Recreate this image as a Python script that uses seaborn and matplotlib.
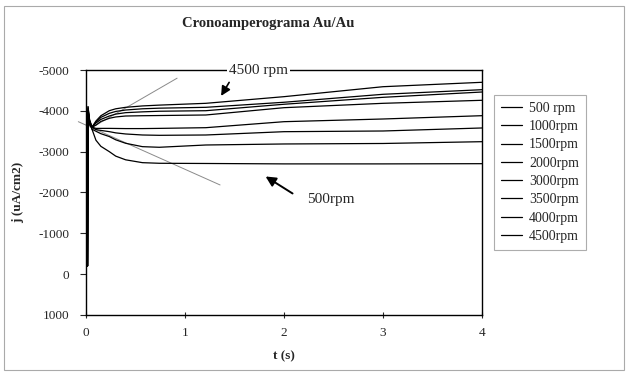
import matplotlib
matplotlib.use("Agg")
import matplotlib.pyplot as plt
import numpy as np
import pandas as pd
import seaborn as sns
from matplotlib.patches import Rectangle

# time points (s)
t = [0.015, 0.02, 0.035, 0.06, 0.1, 0.15, 0.235, 0.3, 0.4, 0.57, 0.74, 1.21, 2, 3, 4]

# current density j (uA/cm2) for each rotation rate
j_500 = [-200, -4100, -3750, -3550, -3280, -3130, -3000, -2890, -2800, -2730, -2715, -2710, -2700, -2700, -2705]
j_1000 = [-200, -4050, -3700, -3550, -3500, -3440, -3370, -3290, -3205, -3122, -3107, -3163, -3188, -3200, -3244]
j_1500 = [-200, -4000, -3700, -3600, -3540, -3520, -3490, -3460, -3433, -3408, -3400, -3408, -3489, -3506, -3580]
j_2000 = [-200, -3950, -3650, -3600, -3570, -3570, -3570, -3568, -3565, -3565, -3570, -3587, -3734, -3800, -3881]
j_3000 = [-200, -4000, -3750, -3600, -3650, -3740, -3817, -3850, -3873, -3880, -3885, -3898, -4077, -4184, -4258]
j_3500 = [-200, -4000, -3750, -3600, -3700, -3790, -3873, -3920, -3955, -3975, -3990, -4003, -4161, -4331, -4461]
j_4000 = [-200, -4050, -3750, -3600, -3720, -3840, -3939, -3985, -4020, -4050, -4065, -4086, -4210, -4405, -4518]
j_4500 = [-200, -4100, -3800, -3600, -3750, -3880, -4003, -4050, -4086, -4120, -4140, -4184, -4347, -4591, -4699]

labels = ["500 rpm", "1000rpm", "1500rpm", "2000rpm", "3000rpm", "3500rpm", "4000rpm", "4500rpm"]
series = [j_500, j_1000, j_1500, j_2000, j_3000, j_3500, j_4000, j_4500]

# gray guide lines (tangents) drawn on the original
tangent_up_t = [0.08, 0.92]
tangent_up_j = [-3620, -4800]
tangent_down_t = [-0.078, 1.354]
tangent_down_j = [-3734, -2184]

rows = []
for lab, vals in zip(labels, series):
    for ti, v in zip(t, vals):
        rows.append({"t": ti, "j": v, "rpm": lab})
df = pd.DataFrame(rows)

sns.set_style("white")
plt.rcParams['font.family'] = ['Liberation Serif', 'DejaVu Serif']
plt.rcParams['axes.unicode_minus'] = False

fig = plt.figure(figsize=(6.28, 3.74), dpi=100)
ax = fig.add_axes([0.137, 0.158, 0.6305, 0.6548])

sns.lineplot(data=df, x="t", y="j", hue="rpm", hue_order=labels,
             palette=["black"] * len(labels), linewidth=0.9, ax=ax,
             estimator=None, sort=False)

ax.plot(tangent_up_t, tangent_up_j, color="#8a8a8a", lw=0.7, zorder=1)
ax.plot(tangent_down_t, tangent_down_j, color="#8a8a8a", lw=0.7, zorder=1, clip_on=False)

ax.set_xlim(0, 4)
ax.set_ylim(1000, -5000)
ax.set_xticks([0, 1, 2, 3, 4])
ax.set_yticks([-5000, -4000, -3000, -2000, -1000, 0, 1000])
ax.tick_params(axis="x", direction="inout", length=5, width=0.8, labelsize=9.5, pad=6)
ax.tick_params(axis="y", direction="out", length=4, width=0.8, labelsize=9.5, pad=8)
ax.tick_params(left=True, bottom=True)
for s in ax.spines.values():
    s.set_color("black")
    s.set_linewidth(1.0)

ax.set_xlabel("t (s)", fontsize=9.5, fontweight="bold", labelpad=8)
ax.set_ylabel("j (uA/cm2)", fontsize=9.5, fontweight="bold", labelpad=10)
fig.text(0.427, 0.938, "Cronoamperograma Au/Au", ha="center", va="center",
         fontsize=10.5, fontweight="bold")

# annotations
ax.text(1.74, -5000, "4500 rpm", ha="center", va="center", fontsize=11,
        bbox=dict(facecolor="white", edgecolor="none", pad=1.5), zorder=5, clip_on=False)
ax.annotate("", xy=(1.35, -4307), xytext=(1.46, -4755),
            arrowprops=dict(arrowstyle="-|>", color="black", lw=1.2, mutation_scale=14))
ax.text(2.23, -1816, "500rpm", ha="left", va="center", fontsize=11)
ax.annotate("", xy=(1.79, -2428), xytext=(2.11, -1939),
            arrowprops=dict(arrowstyle="-|>", color="black", lw=1.4, mutation_scale=15))

leg = ax.legend(loc="upper left", bbox_to_anchor=(0.787, 0.746), bbox_transform=fig.transFigure,
                frameon=True, fancybox=False, edgecolor="#999999", fontsize=10,
                handlelength=1.5, handletextpad=0.5, labelspacing=0.38,
                borderpad=0.5, borderaxespad=0)
leg.get_frame().set_linewidth(0.8)
for line in leg.get_lines():
    line.set_linewidth(0.9)

# outer frame of the chart
fig.patches.append(Rectangle((0.006, 0.01), 0.988, 0.975, transform=fig.transFigure,
                             fill=False, edgecolor="#aaaaaa", lw=0.8))

fig.savefig("out.png", dpi=100)
